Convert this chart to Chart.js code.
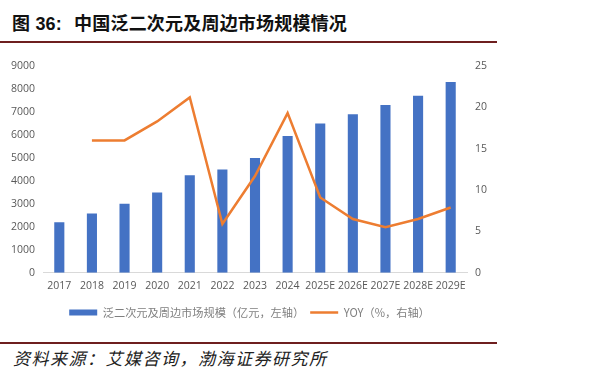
<!DOCTYPE html>
<html>
<head>
<meta charset="utf-8">
<script src="https://cdn.jsdelivr.net/npm/chart.js@4"></script>
<style>
  html, body { margin: 0; padding: 0; background: #fff; }
  body { width: 600px; height: 376px; position: relative; overflow: hidden; }
  #title { position: absolute; left: 12px; top: 14px; font: bold 18px/20px "Liberation Sans", "Noto Sans CJK SC", sans-serif; color: #111; white-space: nowrap; letter-spacing: 0.2px; }
  #title span { margin-left: 12px; }
  .rule { position: absolute; left: 0; width: 497px; height: 2px; background: #6e1f1f; }
  #src { position: absolute; left: 13px; top: 345px; font: italic 17px "Noto Sans CJK SC", sans-serif; color: #222; white-space: nowrap; letter-spacing: 1.5px; }
  #wrap { position: absolute; left: 0; top: 45px; width: 600px; height: 290px; }
</style>
</head>
<body>
<div id="title">图 36:<span>中国泛二次元及周边市场规模情况</span></div>
<div class="rule" style="top:41px"></div>
<div id="wrap"><canvas id="c"></canvas></div>
<div class="rule" style="top:342px"></div>
<div id="src">资料来源：艾媒咨询，渤海证券研究所</div>
<script>
const categories = ['2017','2018','2019','2020','2021','2022','2023','2024','2025E','2026E','2027E','2028E','2029E'];
const marketSize = [2200, 2580, 3000, 3500, 4250, 4500, 5000, 5950, 6500, 6900, 7300, 7700, 8300];
const yoy = [null, 16, 16, 18.3, 21.2, 5.9, 11.7, 19.3, 9.1, 6.5, 5.5, 6.5, 7.9];
const barLabel = '泛二次元及周边市场规模（亿元，左轴）';
const lineLabel = 'YOY（%，右轴）';

const tickFont = { family: '"Open Sans", sans-serif', size: 10.5 };
const shiftLegend = {
  id: 'shiftLegend',
  afterLayout(chart) {
    const lg = chart.legend;
    if (lg) { lg.left -= 9; lg.right -= 9; }
  }
};

new Chart(document.getElementById('c'), {
  data: {
    labels: categories,
    datasets: [
      {
        type: 'line', label: lineLabel, data: yoy, yAxisID: 'y1',
        borderColor: '#ED7D31', backgroundColor: '#ED7D31', borderWidth: 2.5,
        pointRadius: 0, tension: 0, order: 0
      },
      {
        type: 'bar', label: barLabel, data: marketSize, yAxisID: 'y',
        backgroundColor: '#4472C4', borderWidth: 0,
        categoryPercentage: 1, barPercentage: 0.31, order: 1
      }
    ]
  },
  options: {
    responsive: true, maintainAspectRatio: false, animation: false,
    layout: { padding: { top: 21, right: 83, left: 0, bottom: 7 } },
    plugins: {
      tooltip: { enabled: false },
      legend: {
        position: 'bottom', reverse: true,
        labels: {
          usePointStyle: true, pointStyleWidth: 28, boxHeight: 6, padding: 6,
          color: '#7f7f7f', font: { family: '"Noto Sans CJK SC", sans-serif', size: 11.2 },
          generateLabels(chart) {
            return chart.data.datasets.map((ds, i) => ({
              text: ds.label, datasetIndex: i,
              fillStyle: ds.type === 'bar' ? ds.backgroundColor : 'transparent',
              strokeStyle: ds.type === 'bar' ? ds.backgroundColor : ds.borderColor,
              lineWidth: ds.type === 'bar' ? 0 : 2.5,
              pointStyle: ds.type === 'bar' ? 'rect' : 'line',
              fontColor: '#7f7f7f', hidden: false
            }));
          }
        }
      }
    },
    scales: {
      x: {
        grid: { display: false, drawTicks: false },
        border: { display: true, color: '#d9d9d9', width: 1 },
        ticks: { color: '#595959', font: tickFont, padding: 7, maxRotation: 0, autoSkip: false },
        afterFit(s) { s.height = 28; }
      },
      y: {
        position: 'left', min: 0, max: 9000,
        grid: { display: false, drawTicks: false },
        border: { display: false },
        ticks: { stepSize: 1000, color: '#595959', font: tickFont, padding: 8, callback: v => String(v) },
        afterFit(s) { s.width = 43; }
      },
      y1: {
        position: 'right', min: 0, max: 25,
        grid: { display: false, drawTicks: false },
        border: { display: false },
        ticks: { stepSize: 5, color: '#595959', font: tickFont, padding: 8, callback: v => String(v) },
        afterFit(s) { s.width = 50; }
      }
    }
  },
  plugins: [shiftLegend]
});
</script>
</body>
</html>
